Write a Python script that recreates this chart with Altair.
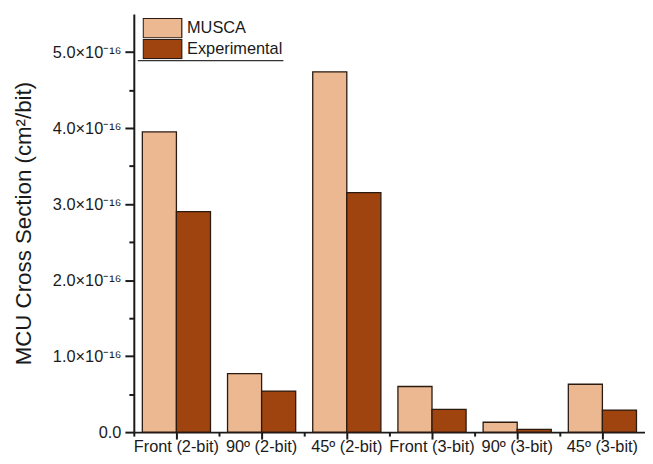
import altair as alt
import pandas as pd

categories = ["Front (2-bit)", "90º (2-bit)", "45º (2-bit)",
              "Front (3-bit)", "90º (3-bit)", "45º (3-bit)"]
series = ["MUSCA", "Experimental"]
# values in units of 1e-16 cm^2/bit
musca = [3.95, 0.77, 4.74, 0.60, 0.13, 0.63]
experimental = [2.90, 0.54, 3.15, 0.30, 0.035, 0.29]
major_ticks = [0, 1, 2, 3, 4, 5]
minor_ticks = [0.5, 1.5, 2.5, 3.5, 4.5]

rows = []
for c, m, e in zip(categories, musca, experimental):
    rows.append({"cat": c, "series": "MUSCA", "value": m})
    rows.append({"cat": c, "series": "Experimental", "value": e})
df = pd.DataFrame(rows)

FONT = "Liberation Sans"
TXT = "#1a1a1a"

xscale = alt.Scale(domain=categories, paddingInner=0, paddingOuter=0)
xoff_scale = alt.Scale(domain=series, paddingInner=0, paddingOuter=0.25)
yscale = alt.Scale(domain=[0, 5.5], nice=False, zero=True)
color_scale = alt.Scale(domain=series, range=["#ecb891", "#a0440f"])

label_expr = "datum.value == 0 ? '0.0' : format(datum.value, '.1f') + '×10⁻¹⁶'"

bars = alt.Chart(df).mark_bar(stroke="#2a1a10", strokeWidth=1.3).encode(
    x=alt.X("cat:N", scale=xscale, sort=categories,
            axis=alt.Axis(title=None, orient="bottom", labelAngle=0,
                          labelFontSize=16.5, labelFont=FONT, labelColor=TXT,
                          labelPadding=0, tickSize=7, tickWidth=2,
                          tickColor=TXT, domainColor=TXT, domainWidth=2,
                          grid=False)),
    xOffset=alt.XOffset("series:N", scale=xoff_scale, sort=series),
    y=alt.Y("value:Q", scale=yscale,
            axis=alt.Axis(title="MCU Cross Section (cm²/bit)", orient="left",
                          values=major_ticks, labelExpr=label_expr,
                          labelFontSize=16.5, labelFont=FONT, labelColor=TXT,
                          labelPadding=4, tickSize=9, tickWidth=2,
                          tickColor=TXT, domainColor=TXT, domainWidth=2,
                          titleFontSize=22.5, titleFont=FONT, titleColor=TXT,
                          titleFontWeight="normal", titlePadding=17.5,
                          grid=False)),
    fill=alt.Fill("series:N", scale=color_scale, sort=series,
                  legend=alt.Legend(title=None, orient="none",
                                    legendX=8.7, legendY=4,
                                    symbolType="M-1,-1H3V1H-1Z",
                                    symbolSize=380,
                                    symbolStrokeColor="#2a1a10",
                                    symbolStrokeWidth=1.2,
                                    symbolOpacity=1,
                                    labelFontSize=16.5, labelFont=FONT,
                                    labelColor=TXT, labelOffset=24,
                                    clipHeight=20.5,
                                    rowPadding=0, padding=0)),
)

minor = alt.Chart(df).mark_bar(opacity=0).encode(
    x=alt.X("cat:N", scale=xscale, sort=categories,
            axis=alt.Axis(title=None, orient="bottom", labels=False,
                          domain=False, bandPosition=0, tickSize=4,
                          tickWidth=2, tickColor=TXT, grid=False)),
    xOffset=alt.XOffset("series:N", scale=xoff_scale, sort=series),
    y=alt.Y("value:Q", scale=yscale,
            axis=alt.Axis(title=None, orient="left", labels=False,
                          domain=False, values=minor_ticks, tickSize=5,
                          tickWidth=2, tickColor=TXT, grid=False)),
)

underline = alt.Chart(pd.DataFrame({"a": [0]})).mark_rule(
    color="#333333", strokeWidth=1.2).encode(
    x=alt.value(4), x2=alt.value(151), y=alt.value(47))

chart = alt.layer(bars, minor, underline).resolve_axis(
    x="independent", y="independent"
).properties(
    width=516, height=422,
    padding={"left": 4, "top": 4, "right": 0, "bottom": 0},
    background="white",
).configure_view(stroke=None)

chart.save("out.html", embed_options={"renderer": "svg", "actions": False})
